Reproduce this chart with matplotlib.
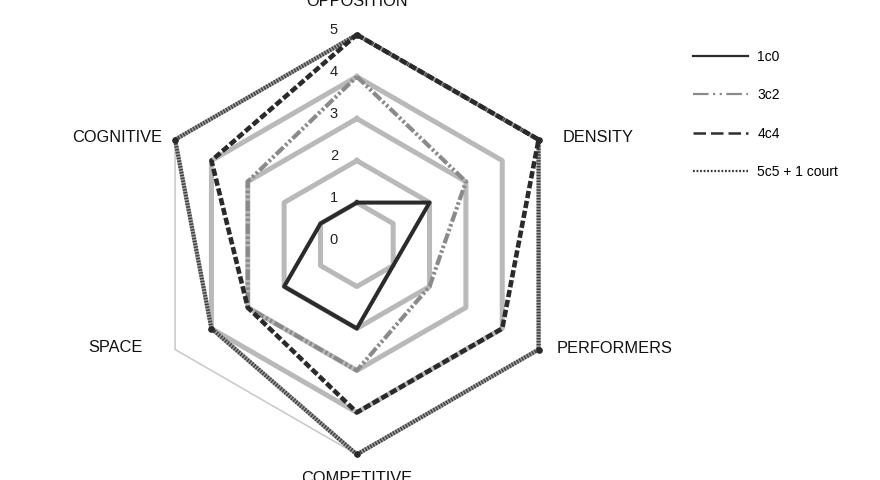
import numpy as np
import matplotlib.pyplot as plt
from matplotlib.lines import Line2D

plt.rcParams['font.family'] = ['Liberation Sans', 'DejaVu Sans']

categories = ['OPPOSITION', 'DENSITY', 'PERFORMERS', 'COMPETITIVE', 'SPACE', 'COGNITIVE']
levels = [0, 1, 2, 3, 4, 5]
s_1c0 = [1, 2, 1, 2, 2, 1]
s_3c2 = [4, 3, 2, 3, 3, 3]
s_4c4 = [5, 5, 4, 4, 3, 4]
s_5c5 = [5, 5, 5, 5, 4, 5]
series_names = ['1c0', '3c2', '4c4', '5c5 + 1 court']

n = len(categories)
theta = np.arange(n) * 2 * np.pi / n
theta_c = np.append(theta, theta[0])

def closed(v):
    v = np.asarray(v, dtype=float)
    return np.append(v, v[0])

fig = plt.figure(figsize=(8.8, 4.8), dpi=100)
ax = fig.add_axes([0.167, 0.053, 0.477, 0.875], projection='polar')
ax.set_theta_offset(np.pi / 2)
ax.set_theta_direction(-1)
ax.set_ylim(0, 5)
ax.set_xticks([])
ax.set_yticks([])
ax.grid(False)
ax.spines['polar'].set_visible(False)

# hexagonal grid
for lv in levels[1:]:
    if lv == 5:
        ax.plot(theta_c, closed([lv] * n), color='#c8c8c8', lw=1.1, zorder=1, clip_on=False)
    else:
        ax.plot(theta_c, closed([lv] * n), color='#b9b9b9', lw=3.6, zorder=1, clip_on=False)

ax.plot(theta_c, closed(s_1c0), color='#2b2b2b', lw=2.9, zorder=3, clip_on=False)
ax.plot(theta_c, closed(s_3c2), color='#8a8a8a', lw=3.0,
        linestyle=(0, (2.5, 0.6, 0.6, 0.6, 0.6, 0.6)), zorder=3, clip_on=False)
# striped look of the 5c5 line: grey band with fine dark dots
ax.plot(theta_c, closed(s_5c5), color='#a0a0a0', lw=3.0, zorder=4, clip_on=False)
ax.plot(theta_c, closed(s_5c5), color='#404040', lw=3.0,
        linestyle=(0, (0.35, 0.35)), zorder=4, clip_on=False)
ax.plot(theta, s_5c5, 'o', color='#2a2a2a', ms=3.8, zorder=4, clip_on=False)
ax.plot(theta_c, closed(s_4c4), color='#2a2a2a', lw=3.3,
        linestyle=(0, (1.6, 0.6)), zorder=5, clip_on=False)

# radial values along the top axis
for lv in levels:
    ax.annotate(str(lv), xy=(0, lv), xytext=(-16.5, 3.5), textcoords='offset points',
                ha='center', va='center', fontsize=10.5, color='#222222')

# category labels
offsets = [(0, 23.8, 'center'), (17.3, 1.8, 'left'), (13, 1, 'left'),
           (0, -17, 'center'), (-23, 1.8, 'right'), (-9.4, 1.8, 'right')]
for t, lab, (dx, dy, ha) in zip(theta, categories, offsets):
    ax.annotate(lab, xy=(t, 5), xytext=(dx, dy), textcoords='offset points',
                ha=ha, va='center', fontsize=11.8, color='#111111', annotation_clip=False)

handles = [
    Line2D([], [], color='#2b2b2b', lw=1.6),
    Line2D([], [], color='#8a8a8a', lw=1.6, linestyle=(0, (7, 2, 1, 2, 1, 2))),
    Line2D([], [], color='#2e2e2e', lw=1.8, linestyle=(0, (5, 2))),
    Line2D([], [], color='#333333', lw=1.6, linestyle=(0, (0.8, 0.8))),
]
fig.legend(handles, series_names, loc='upper left', bbox_to_anchor=(0.773, 0.922),
           frameon=False, fontsize=10, handlelength=4.0, handletextpad=0.65,
           labelspacing=1.75)

fig.savefig('out.png', dpi=100)
